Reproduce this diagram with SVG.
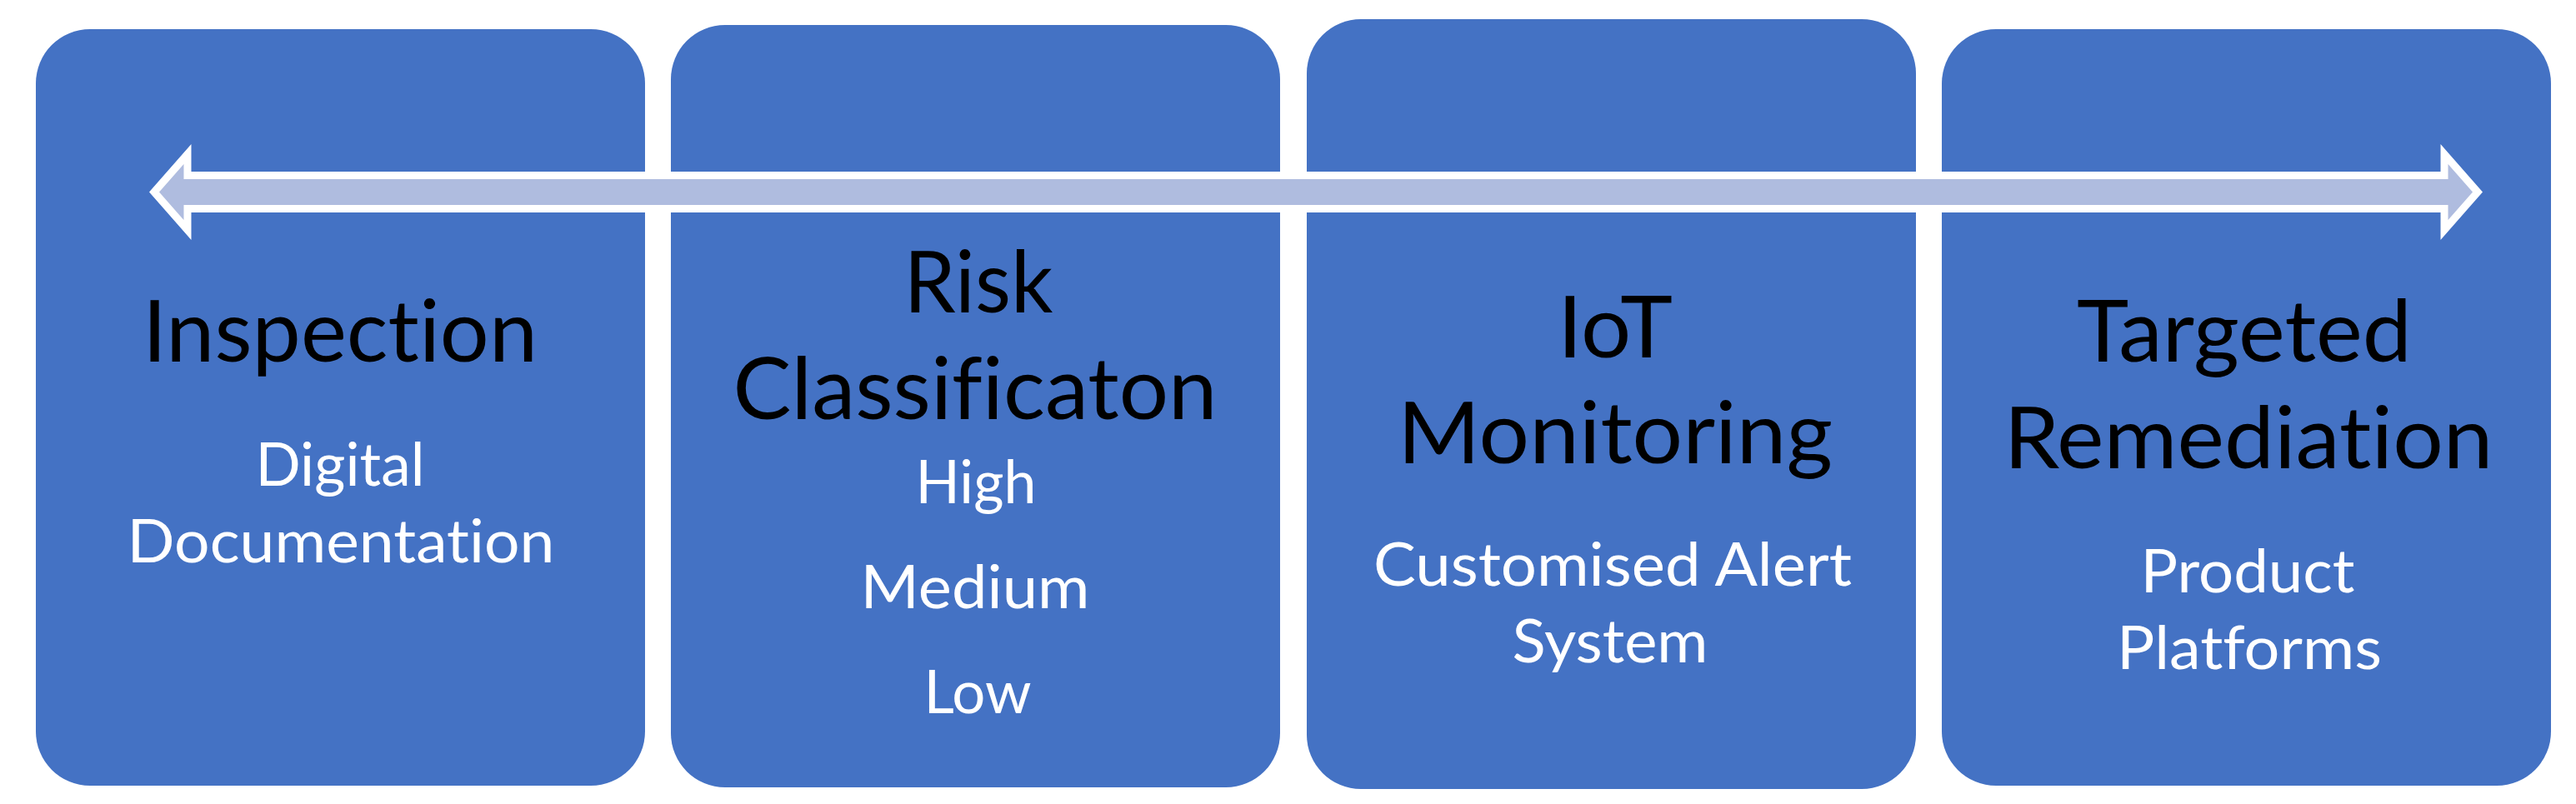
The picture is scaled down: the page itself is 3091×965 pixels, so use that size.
<svg xmlns="http://www.w3.org/2000/svg" width="3091" height="965" viewBox="0 0 3091 965">
  <style>
    .box { fill: #4472C4; }
    .title { font-family: Lato, "Liberation Sans", Arial, sans-serif; font-size: 102px; fill: #000000; text-anchor: middle; font-variant-ligatures: none; font-feature-settings: "liga" 0, "dlig" 0, "clig" 0; }
    .sub { font-family: Lato, "Liberation Sans", Arial, sans-serif; font-size: 71px; fill: #FFFFFF; text-anchor: middle; font-variant-ligatures: none; font-feature-settings: "liga" 0, "dlig" 0, "clig" 0; }
    .arrow { fill: #AFBCDF; stroke: #FFFFFF; stroke-width: 9; stroke-linejoin: miter; stroke-miterlimit: 10; }
  </style>
  <rect width="3091" height="965" fill="#FFFFFF"/>
  <g id="node-inspection">
    <rect class="box" x="43" y="35" width="731" height="908" rx="65" ry="65"/>
    <text class="title" x="408" y="434" textLength="474" lengthAdjust="spacingAndGlyphs">Inspection</text>
    <text class="sub" x="408" y="583" textLength="203" lengthAdjust="spacingAndGlyphs">Digital</text>
    <text class="sub" x="409" y="675" textLength="513" lengthAdjust="spacingAndGlyphs">Documentation</text>
  </g>
  <g id="node-risk">
    <rect class="box" x="805" y="30" width="731" height="915" rx="65" ry="65"/>
    <text class="title" x="1174" y="375" textLength="179" lengthAdjust="spacingAndGlyphs">Risk</text>
    <text class="title" x="1170" y="503" textLength="581" lengthAdjust="spacingAndGlyphs">Classificaton</text>
    <text class="sub" x="1171" y="604" textLength="145" lengthAdjust="spacingAndGlyphs">High</text>
    <text class="sub" x="1170" y="730" textLength="275" lengthAdjust="spacingAndGlyphs">Medium</text>
    <text class="sub" x="1173" y="856" textLength="129" lengthAdjust="spacingAndGlyphs">Low</text>
  </g>
  <g id="node-iot">
    <rect class="box" x="1568" y="23" width="731" height="924" rx="65" ry="65"/>
    <text class="title" x="1938" y="429" textLength="138" lengthAdjust="spacingAndGlyphs">IoT</text>
    <text class="title" x="1938" y="556" textLength="522" lengthAdjust="spacingAndGlyphs">Monitoring</text>
    <text class="sub" x="1935" y="703" textLength="574" lengthAdjust="spacingAndGlyphs">Customised Alert</text>
    <text class="sub" x="1932" y="795" textLength="235" lengthAdjust="spacingAndGlyphs">System</text>
  </g>
  <g id="node-remediation">
    <rect class="box" x="2330" y="35" width="731" height="908" rx="65" ry="65"/>
    <text class="title" x="2693" y="434" textLength="402" lengthAdjust="spacingAndGlyphs">Targeted</text>
    <text class="title" x="2698" y="562" textLength="587" lengthAdjust="spacingAndGlyphs">Remediation</text>
    <text class="sub" x="2697" y="711" textLength="257" lengthAdjust="spacingAndGlyphs">Product</text>
    <text class="sub" x="2699" y="803" textLength="318" lengthAdjust="spacingAndGlyphs">Platforms</text>
  </g>
  <g id="connectors">
    <path class="arrow" d="M185,230.5 L225,185 L225,210.5 L2933,210.5 L2933,185 L2973,230.5 L2933,276 L2933,250.5 L225,250.5 L225,276 Z"/>
  </g>
</svg>
